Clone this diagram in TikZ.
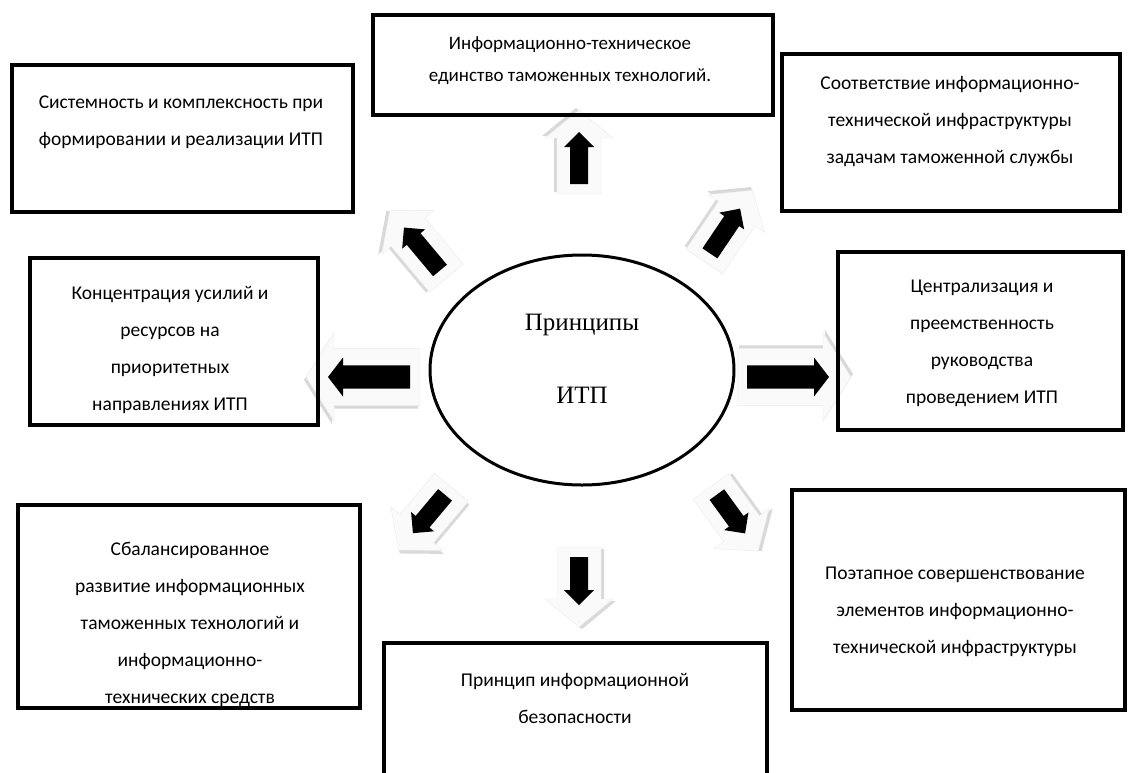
\documentclass[tikz,border=0pt]{standalone}
\usepackage{fontspec}
\setmainfont{Carlito}
\newfontfamily\serifrm{Liberation Serif}
\tikzset{
  lbl/.style={align=center, font=\fontsize{19.5}{37}\selectfont, inner sep=0pt},
  frame/.style={line width=3.5pt},
}
% x, y, angle (canvas), length, width scale
\newcommand\barrow[5]{%
\begin{scope}[shift={(#1,#2)}, rotate=#3]
  \fill[gray!30] ({-#4/2-10+2},{-22*#5-3}) -- ({#4/2-6+2},{-22*#5-3}) -- ({#4/2-6+2},{-34*#5-3}) -- ({#4/2+22+2},-3) -- ({#4/2-6+2},{34*#5-3}) -- ({#4/2-6+2},{22*#5-3}) -- ({-#4/2-10+2},{22*#5-3}) -- cycle;
  \filldraw[fill=gray!4, draw=gray!15] ({-#4/2-10},{-22*#5}) -- ({#4/2-6},{-22*#5}) -- ({#4/2-6},{-34*#5}) -- ({#4/2+22},0) -- ({#4/2-6},{34*#5}) -- ({#4/2-6},{22*#5}) -- ({-#4/2-10},{22*#5}) -- cycle;
  \fill[black] ({-#4/2},{-9*#5}) -- ({#4/2-15},{-9*#5}) -- ({#4/2-15},{-15*#5}) -- ({#4/2},0) -- ({#4/2-15},{15*#5}) -- ({#4/2-15},{9*#5}) -- ({-#4/2},{9*#5}) -- cycle;
\end{scope}}
\begin{document}
\begin{tikzpicture}[x=1pt,y=-1pt]
\useasboundingbox[fill=white] (0,0) rectangle (1128,772);

% arrows
\barrow{579}{158}{90}{52}{1}
\barrow{422}{249}{130}{56}{1}
\barrow{369}{377}{180}{82}{1.3}
\barrow{725}{231}{56}{54}{1}
\barrow{788}{377}{0}{82}{1.3}
\barrow{429}{514}{-130}{50}{1}
\barrow{579}{581}{-90}{48}{1}
\barrow{731}{514}{-54}{48}{1}

% boxes
\draw[frame] (12,65) rectangle (353,212);
\node[minimum width=341pt, minimum height=147pt] (b1) at (182.5,138.5) {};
\draw[frame] (373,15) rectangle (773,115);
\node[minimum width=400pt, minimum height=100pt] (b2) at (573,65) {};
\draw[frame] (782,54) rectangle (1120,211);
\node[minimum width=338pt, minimum height=157pt] (b3) at (951,132.5) {};
\draw[frame] (30,258) rectangle (318,425);
\node[minimum width=288pt, minimum height=167pt] (b4) at (174,341.5) {};
\draw[frame] (838,252) rectangle (1123,430);
\node[minimum width=285pt, minimum height=178pt] (b5) at (980.5,341) {};
\draw[frame] (18,505) rectangle (360,708);
\node[minimum width=342pt, minimum height=203pt] (b6) at (189,606.5) {};
\draw[frame] (792,490) rectangle (1125,710);
\node[minimum width=333pt, minimum height=220pt] (b7) at (958.5,600) {};
\draw[frame] (384,780) -- (384,643) -- (767,643) -- (767,780);
\node[minimum width=383pt, minimum height=130pt] (b8) at (575.5,708) {};

% ellipse
\draw[line width=3pt, fill=white] (582,370) ellipse [x radius=152, y radius=115];
\node (c) at (582,370) {};
\node[font=\serifrm\fontsize{25}{30}\selectfont] (c1) at (582,325) {Принципы};
\node[font=\serifrm\fontsize{25}{30}\selectfont] (c2) at (582,395) {ИТП};

% texts
\node[lbl] (t1) at (181,122) {Системность и комплексность при\\формировании и реализации ИТП};
\node[lbl, font=\fontsize{19}{32}\selectfont] (t2) at (570,61) {Информационно-техническое\\единство таможенных технологий.};
\node[lbl] (t3) at (950,122) {Соответствие информационно-\\технической инфраструктуры\\задачам таможенной службы};
\node[lbl] (t4) at (170,350) {Концентрация усилий и\\ресурсов на\\приоритетных\\направлениях ИТП};
\node[lbl] (t5) at (982,343) {Централизация и\\преемственность\\руководства\\проведением ИТП};
\node[lbl] (t6) at (190,624) {Сбалансированное\\развитие информационных\\таможенных технологий и\\информационно-\\технических средств};
\node[lbl] (t7) at (955,612) {Поэтапное совершенствование\\элементов информационно-\\технической инфраструктуры};
\node[lbl] (t8) at (575,698) {Принцип информационной\\безопасности};
\end{tikzpicture}
\end{document}
